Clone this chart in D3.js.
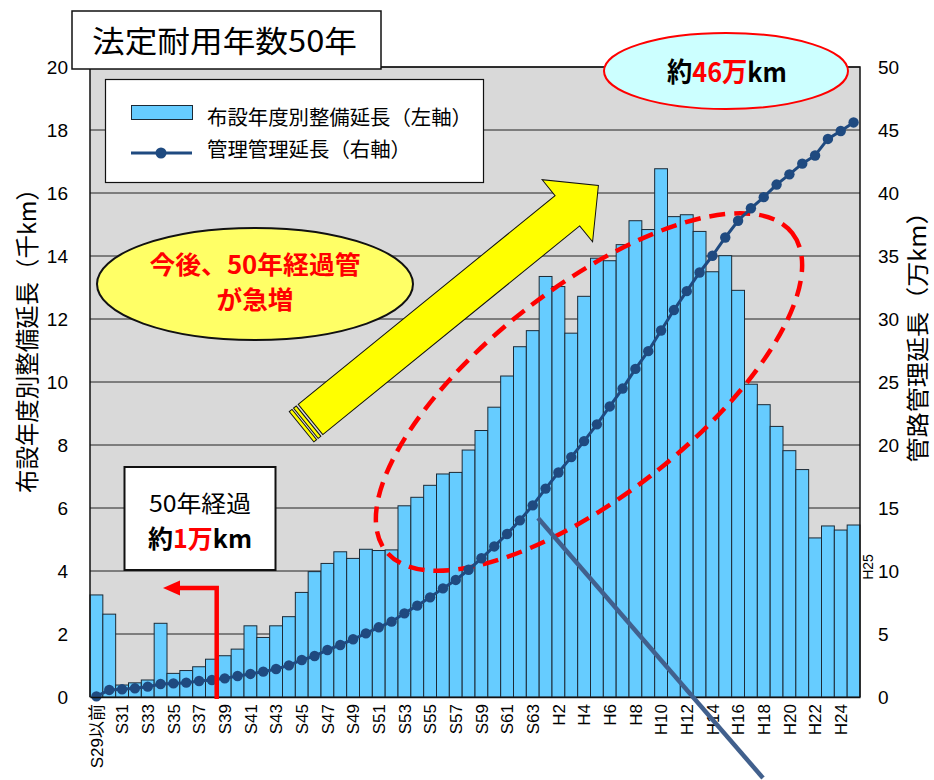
<!DOCTYPE html>
<html>
<head>
<meta charset="utf-8">
<script src="https://cdn.jsdelivr.net/npm/d3@7"></script>
<style>
  html, body { margin: 0; padding: 0; background: #ffffff; }
  svg { display: block; }
  text { font-family: "Liberation Sans", Arial, sans-serif; }
  .jp { font-family: "Noto Sans CJK JP", "Noto Sans", sans-serif; }
</style>
</head>
<body>
<div id="chart"></div>
<script>
// ---------------- DATA ----------------
const categories = [
  "S29以前","S30","S31","S32","S33","S34","S35","S36","S37","S38","S39",
  "S40","S41","S42","S43","S44","S45","S46","S47","S48","S49","S50",
  "S51","S52","S53","S54","S55","S56","S57","S58","S59","S60","S61",
  "S62","S63","H1","H2","H3","H4","H5","H6","H7","H8","H9","H10",
  "H11","H12","H13","H14","H15","H16","H17","H18","H19","H20","H21",
  "H22","H23","H24","H25"
];
// 布設年度別整備延長 (千km, left axis)
const barValues = [
  3.24, 2.63, 0.38, 0.45, 0.54, 2.34, 0.75, 0.84, 0.96, 1.20, 1.31,
  1.52, 2.26, 1.89, 2.26, 2.55, 3.32, 3.98, 4.24, 4.61, 4.40, 4.69,
  4.65, 4.67, 6.07, 6.34, 6.72, 7.08, 7.13, 7.84, 8.46, 9.20, 10.19,
  11.12, 11.63, 13.35, 13.03, 11.55, 12.72, 13.93, 13.85, 14.36, 15.12, 14.84, 16.77,
  15.25, 15.31, 14.78, 13.50, 14.01, 12.91, 9.93, 9.28, 8.59, 7.82, 7.22,
  5.05, 5.43, 5.30, 5.46
];
// 管理管理延長 (万km, right axis)
const lineValues = [
  0.05, 0.56, 0.61, 0.69, 0.82, 1.03, 1.08, 1.14, 1.27, 1.35, 1.48,
  1.67, 1.83, 2.01, 2.22, 2.51, 2.94, 3.25, 3.73, 4.13, 4.58, 5.05,
  5.53, 5.98, 6.64, 7.25, 7.91, 8.62, 9.29, 10.10, 11.01, 11.95, 12.94,
  14.02, 15.21, 16.54, 17.82, 19.04, 20.31, 21.64, 23.06, 24.48, 26.04, 27.45, 29.09,
  30.71, 32.21, 33.69, 35.02, 36.47, 37.80, 38.79, 39.67, 40.67, 41.48, 42.33,
  42.98, 44.29, 44.92, 45.60
];
const leftTicks = [0, 2, 4, 6, 8, 10, 12, 14, 16, 18, 20];
const rightTicks = [0, 5, 10, 15, 20, 25, 30, 35, 40, 45, 50];
const xTickLabels = [
  "S29以前","S31","S33","S35","S37","S39","S41","S43","S45","S47","S49",
  "S51","S53","S55","S57","S59","S61","S63","H2","H4","H6","H8","H10",
  "H12","H14","H16","H18","H20","H22","H24"
];
const titleText = "法定耐用年数50年";
const legendLabels = ["布設年度別整備延長（左軸）", "管理管理延長（右軸）"];
const leftAxisTitle = "布設年度別整備延長（千km）";
const rightAxisTitle = "管路管理延長（万km）";

// ---------------- LAYOUT ----------------
const W = 934, H = 780;
const plot = { left: 90, right: 860, top: 67, bottom: 697 };

const svg = d3.select("#chart").append("svg")
  .attr("width", W).attr("height", H);

const x = d3.scaleBand().domain(categories).range([plot.left, plot.right]).padding(0);
const yL = d3.scaleLinear().domain([0, 20]).range([plot.bottom, plot.top]);
const yR = d3.scaleLinear().domain([0, 50]).range([plot.bottom, plot.top]);

// plot background
svg.append("rect")
  .attr("x", plot.left).attr("y", plot.top)
  .attr("width", plot.right - plot.left).attr("height", plot.bottom - plot.top)
  .attr("fill", "#d9d9d9");

// gridlines
svg.append("g").selectAll("line").data(leftTicks.filter(d => d > 0)).join("line")
  .attr("x1", plot.left).attr("x2", plot.right)
  .attr("y1", d => yL(d)).attr("y2", d => yL(d))
  .attr("stroke", "#222").attr("stroke-width", 1);

// bars
svg.append("g").selectAll("rect").data(barValues).join("rect")
  .attr("x", (d, i) => x(categories[i]))
  .attr("y", d => yL(d))
  .attr("width", x.bandwidth())
  .attr("height", d => plot.bottom - yL(d))
  .attr("fill", "#66ccff")
  .attr("stroke", "#1c2a36").attr("stroke-width", 1);

// plot frame
svg.append("path")
  .attr("d", `M${plot.left},${plot.bottom}V${plot.top}H${plot.right}V${plot.bottom}`)
  .attr("fill", "none").attr("stroke", "#111").attr("stroke-width", 1.5);

// red dashed ellipse (under the line)
svg.append("ellipse")
  .attr("cx", 0).attr("cy", 0).attr("rx", 258).attr("ry", 104)
  .attr("transform", "translate(589,392) rotate(-38)")
  .attr("fill", "none").attr("stroke", "#ff0000").attr("stroke-width", 4.5)
  .attr("stroke-dasharray", "16 9");

// cumulative line
const lineGen = d3.line()
  .x((d, i) => x(categories[i]) + x.bandwidth() / 2)
  .y(d => yR(d));
svg.append("path").datum(lineValues)
  .attr("d", lineGen)
  .attr("fill", "none").attr("stroke", "#1f4a80").attr("stroke-width", 3);
svg.append("g").selectAll("circle").data(lineValues).join("circle")
  .attr("cx", (d, i) => x(categories[i]) + x.bandwidth() / 2)
  .attr("cy", d => yR(d))
  .attr("r", 5.2)
  .attr("fill", "#1f4a80");

// axes
const axL = svg.append("g").attr("transform", `translate(${plot.left},0)`)
  .call(d3.axisLeft(yL).tickValues(leftTicks).tickSize(0).tickPadding(22));
axL.select(".domain").remove();
axL.selectAll("text").attr("font-size", 19).attr("fill", "#000")
  .style("font-family", "'Liberation Sans', Arial, sans-serif");

const axR = svg.append("g").attr("transform", `translate(${plot.right},0)`)
  .call(d3.axisRight(yR).tickValues(rightTicks).tickSize(0).tickPadding(18));
axR.select(".domain").remove();
axR.selectAll("text").attr("font-size", 19).attr("fill", "#000")
  .style("font-family", "'Liberation Sans', Arial, sans-serif");

const axB = svg.append("g").attr("transform", `translate(0,${plot.bottom})`)
  .call(d3.axisBottom(x).tickValues(xTickLabels).tickSize(0).tickPadding(0));
axB.select(".domain").attr("stroke", "#111").attr("stroke-width", 1.5);
axB.selectAll("text")
  .attr("font-size", 17).attr("fill", "#000")
  .attr("text-anchor", "end")
  .attr("transform", "rotate(-90)")
  .attr("x", -7).attr("y", 0).attr("dy", "0.36em")
  .style("font-family", "'Liberation Sans', 'Noto Sans CJK JP', sans-serif");

// stray clipped H25 label at right axis
svg.append("text")
  .attr("transform", "translate(873,567) rotate(-90)")
  .attr("text-anchor", "middle")
  .attr("font-size", 14).text("H25");

// axis titles
svg.append("text").attr("class", "jp")
  .attr("transform", "translate(25,335) rotate(-90)")
  .attr("text-anchor", "middle").attr("dominant-baseline", "central")
  .attr("font-size", 24).attr("textLength", 316).attr("lengthAdjust", "spacingAndGlyphs")
  .text(leftAxisTitle);
svg.append("text").attr("class", "jp")
  .attr("transform", "translate(916,331) rotate(-90)")
  .attr("text-anchor", "middle").attr("dominant-baseline", "central")
  .attr("font-size", 23).attr("textLength", 263).attr("lengthAdjust", "spacingAndGlyphs")
  .text(rightAxisTitle);

// title box
svg.append("rect").attr("x", 72).attr("y", 11).attr("width", 309).attr("height", 58)
  .attr("fill", "#fff").attr("stroke", "#111").attr("stroke-width", 1.5);
svg.append("text").attr("class", "jp")
  .attr("x", 92).attr("y", 52).attr("font-size", 30)
  .attr("textLength", 265).attr("lengthAdjust", "spacingAndGlyphs")
  .text(titleText);

// legend
const lg = svg.append("g");
lg.append("rect").attr("x", 105.5).attr("y", 79.5).attr("width", 378).attr("height", 103)
  .attr("fill", "#fff").attr("stroke", "#111").attr("stroke-width", 1.2);
lg.append("rect").attr("x", 131.5).attr("y", 105.5).attr("width", 61).attr("height", 14)
  .attr("fill", "#66ccff").attr("stroke", "#1c2a36").attr("stroke-width", 1);
lg.append("line").attr("x1", 131).attr("x2", 192).attr("y1", 153).attr("y2", 153)
  .attr("stroke", "#1f4a80").attr("stroke-width", 3);
lg.append("circle").attr("cx", 161).attr("cy", 153).attr("r", 5.5).attr("fill", "#1f4a80");
lg.append("text").attr("class", "jp").attr("x", 207).attr("y", 125)
  .attr("font-size", 20).attr("textLength", 265).attr("lengthAdjust", "spacingAndGlyphs")
  .text(legendLabels[0]);
lg.append("text").attr("class", "jp").attr("x", 207).attr("y", 157)
  .attr("font-size", 20).attr("textLength", 204).attr("lengthAdjust", "spacingAndGlyphs")
  .text(legendLabels[1]);

// yellow block arrow
const arrow = svg.append("g").attr("transform", "translate(310.5,419.5) rotate(-39.1)");
const arrowPath = "M0,-19.5 L331,-19.5 L331,-40 L371,0 L331,40 L331,19.5 L0,19.5 Z";
arrow.append("path").attr("d", arrowPath)
  .attr("fill", "#ffff00").attr("stroke", "#111").attr("stroke-width", 1);
arrow.append("rect").attr("x", -6).attr("y", -19.5).attr("width", 3.5).attr("height", 39)
  .attr("fill", "#ffff00").attr("stroke", "#111").attr("stroke-width", 1);
arrow.append("rect").attr("x", -11.5).attr("y", -19.5).attr("width", 3.5).attr("height", 39)
  .attr("fill", "#ffff00").attr("stroke", "#111").attr("stroke-width", 1);

// yellow ellipse callout
svg.append("ellipse").attr("cx", 255).attr("cy", 284).attr("rx", 158).attr("ry", 56)
  .attr("fill", "#ffff66").attr("stroke", "#111").attr("stroke-width", 2);
svg.append("text").attr("class", "jp").attr("x", 255).attr("y", 274)
  .attr("text-anchor", "middle").attr("font-size", 25).attr("font-weight", "bold")
  .attr("fill", "#ff0000").attr("textLength", 211).attr("lengthAdjust", "spacingAndGlyphs")
  .text("今後、50年経過管");
svg.append("text").attr("class", "jp").attr("x", 255).attr("y", 309)
  .attr("text-anchor", "middle").attr("font-size", 25).attr("font-weight", "bold")
  .attr("fill", "#ff0000").attr("textLength", 77).attr("lengthAdjust", "spacingAndGlyphs")
  .text("が急増");

// cyan ellipse callout
svg.append("ellipse").attr("cx", 726).attr("cy", 71).attr("rx", 122).attr("ry", 38)
  .attr("fill", "#ccffff").attr("stroke", "#ff0000").attr("stroke-width", 2);
const t46 = svg.append("text").attr("class", "jp").attr("x", 727).attr("y", 82)
  .attr("text-anchor", "middle").attr("font-size", 27).attr("font-weight", "bold")
  .attr("textLength", 120).attr("lengthAdjust", "spacingAndGlyphs");
t46.append("tspan").attr("fill", "#000").text("約");
t46.append("tspan").attr("fill", "#ff0000").text("46万");
t46.append("tspan").attr("fill", "#000").text("km");

// 50年経過 box
svg.append("rect").attr("x", 124.5).attr("y", 467).attr("width", 151).attr("height", 103)
  .attr("fill", "#fff").attr("stroke", "#111").attr("stroke-width", 2);
svg.append("text").attr("class", "jp").attr("x", 200).attr("y", 512)
  .attr("text-anchor", "middle").attr("font-size", 23)
  .attr("textLength", 102).attr("lengthAdjust", "spacingAndGlyphs")
  .text("50年経過");
const t1 = svg.append("text").attr("class", "jp").attr("x", 200).attr("y", 548)
  .attr("text-anchor", "middle").attr("font-size", 25).attr("font-weight", "bold")
  .attr("textLength", 104).attr("lengthAdjust", "spacingAndGlyphs");
t1.append("tspan").attr("fill", "#000").text("約");
t1.append("tspan").attr("fill", "#ff0000").text("1万");
t1.append("tspan").attr("fill", "#000").text("km");

// red L arrow
svg.append("path").attr("d", "M216.7,699 V588 H178")
  .attr("fill", "none").attr("stroke", "#ff0000").attr("stroke-width", 4.5);
svg.append("path").attr("d", "M163,588 L180,580.5 L180,595.5 Z").attr("fill", "#ff0000");

// steel blue diagonal line
svg.append("line").attr("x1", 538).attr("y1", 518).attr("x2", 763).attr("y2", 778)
  .attr("stroke", "#41608d").attr("stroke-width", 4.5);
</script>
</body>
</html>
